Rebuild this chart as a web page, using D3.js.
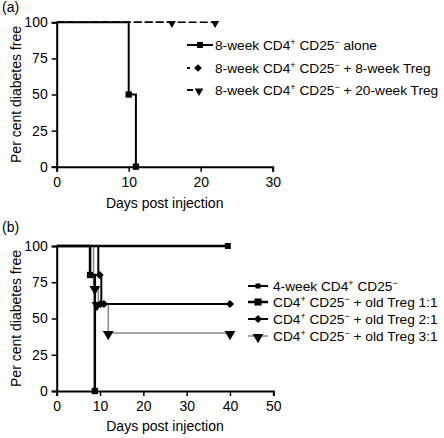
<!DOCTYPE html>
<html><head><meta charset="utf-8">
<script src="https://cdn.jsdelivr.net/npm/d3@7"></script>
<style>body{margin:0;background:#fff}svg{display:block}text{font-family:"Liberation Sans",Arial,sans-serif;fill:#000}</style>
</head><body><svg id="c" width="444" height="438"></svg>
<script>
// Panel (a) data
const aXTicks = [0, 10, 20, 30];
const aYTicks = [0, 25, 50, 75, 100];
const aAloneSteps = [[0,100],[10,100],[10,50],[11,50],[11,0]];
const aAloneMarks = [[10,50],[11,0]];
const aTreg8Steps = [[0,100],[16,100]];
const aTreg8Marks = [[16,100]];
const aTreg20Steps = [[0,100],[22,100]];
const aTreg20Marks = [[22,100]];
const aLegend = [["8-week CD4","+"," CD25","\u2212"," alone"],["8-week CD4","+"," CD25","\u2212"," + 8-week Treg"],["8-week CD4","+"," CD25","\u2212"," + 20-week Treg"]];

// Panel (b) data
const bXTicks = [0, 10, 20, 30, 40, 50];
const bYTicks = [0, 25, 50, 75, 100];
const b4wSteps = [[0,100],[39.5,100]];
const b4wMarks = [[39.5,100]];
const b11Steps = [[0,100],[7.7,100],[7.7,80],[8.8,80],[8.8,0]];
const b11Marks = [[7.7,80],[8.8,0]];
const b21Steps = [[0,100],[9.6,100],[9.6,80],[10.3,80],[10.3,60],[40,60]];
const b21Marks = [[9.9,80],[10.1,60],[10.9,60],[40,60]];
const b31Steps = [[0,100],[8.5,100],[8.5,71],[9.6,71],[9.6,60],[11.9,60],[11.9,40],[40,40]];
const b31Marks = [[8.8,71],[9.3,60],[11.9,40],[40,40]];
const bLegend = [["4-week CD4","+"," CD25","\u2212",""],["CD4","+"," CD25","\u2212"," + old Treg 1:1"],["CD4","+"," CD25","\u2212"," + old Treg 2:1"],["CD4","+"," CD25","\u2212"," + old Treg 3:1"]];

const svg = d3.select("#c");
const FS = 14;
const LFS = 13.7;

function sym(g, type, x, y, size, color, rot) {
  g.append("path").attr("d", d3.symbol().type(type).size(size)())
    .attr("transform", `translate(${x},${y}) rotate(${rot||0})`).attr("fill", color);
}
function diamond(g, x, y, size) { sym(g, d3.symbolSquare, x, y, size, "#000", 45); }

function axes(g, x, y, xTicks, yTicks, xlabY) {
  const xa = g.append("g").attr("transform", `translate(0,${y.range()[0]})`)
    .call(d3.axisBottom(x).tickValues(xTicks).tickSize(5).tickPadding(5).tickFormat(d3.format("d")));
  const ya = g.append("g").attr("transform", `translate(${x.range()[0]},0)`)
    .call(d3.axisLeft(y).tickValues(yTicks).tickSize(5).tickPadding(4).tickFormat(d3.format("d")));
  [xa, ya].forEach(a => {
    a.selectAll("path").attr("stroke", "#000").attr("stroke-width", 2);
    a.selectAll("line").attr("stroke", "#000").attr("stroke-width", 1.5);
    a.selectAll("text").attr("font-size", FS).attr("font-family", "Liberation Sans, Arial, sans-serif").attr("fill", "#000");
  });
  g.append("text").attr("x", (x.range()[0] + x.range()[1]) / 2).attr("y", xlabY)
    .attr("text-anchor", "middle").attr("font-size", FS).text("Days post injection");
  const cy = (y.range()[0] + y.range()[1]) / 2;
  g.append("text").attr("transform", `translate(21,${cy}) rotate(-90)`)
    .attr("text-anchor", "middle").attr("font-size", FS).text("Per cent diabetes free");
}

function legText(g, x, y, parts) {
  const t = g.append("text").attr("x", x).attr("y", y).attr("dy", "0.35em").attr("font-size", LFS);
  t.append("tspan").text(parts[0]);
  t.append("tspan").attr("font-size", 9).attr("dy", -5).text(parts[1]);
  t.append("tspan").attr("dy", 5).text(parts[2]);
  t.append("tspan").attr("font-size", 9).attr("dy", -5).text(parts[3]);
  if (parts[4]) t.append("tspan").attr("dy", 5).text(parts[4]);
}

const line = (x, y) => d3.line().x(d => x(d[0])).y(d => y(d[1]));

// ---------- Panel (a)
{
  const g = svg.append("g");
  const x = d3.scaleLinear().domain([0, 30]).range([56.7, 272.7]);
  const y = d3.scaleLinear().domain([0, 100]).range([166.7, 22.3]);
  g.append("text").attr("x", 2).attr("y", 12).attr("font-size", FS).text("(a)");
  axes(g, x, y, aXTicks, aYTicks, 208);
  const L = line(x, y);
  g.append("path").datum(aTreg20Steps).attr("d", L).attr("fill", "none").attr("stroke", "#000").attr("stroke-width", 1.5).attr("stroke-dasharray", "8,3");
  g.append("path").datum(aTreg8Steps).attr("d", L).attr("fill", "none").attr("stroke", "#000").attr("stroke-width", 1.5).attr("stroke-dasharray", "8,3");
  g.append("path").datum(aAloneSteps).attr("d", L).attr("fill", "none").attr("stroke", "#000").attr("stroke-width", 2);
  aAloneMarks.forEach(d => sym(g, d3.symbolSquare, x(d[0]), y(d[1]), 40, "#000"));
  aTreg8Marks.forEach(d => sym(g, d3.symbolTriangle, x(d[0]), y(d[1]) + 1, 28, "#000", 180));
  aTreg20Marks.forEach(d => sym(g, d3.symbolTriangle, x(d[0]), y(d[1]) + 1, 28, "#000", 180));
  // legend
  const lx0 = 187, lx1 = 213, tx = 215, rows = [45, 68, 90];
  g.append("line").attr("x1", lx0).attr("x2", lx1).attr("y1", rows[0]).attr("y2", rows[0]).attr("stroke", "#000").attr("stroke-width", 2);
  sym(g, d3.symbolSquare, 200, rows[0], 36, "#000");
  g.append("line").attr("x1", lx0).attr("x2", 190).attr("y1", rows[1]).attr("y2", rows[1]).attr("stroke", "#000").attr("stroke-width", 2);
  diamond(g, 198, rows[1], 30);
  g.append("line").attr("x1", lx0).attr("x2", 193).attr("y1", rows[2]).attr("y2", rows[2]).attr("stroke", "#000").attr("stroke-width", 2);
  sym(g, d3.symbolTriangle, 199, rows[2] + 1, 32, "#000", 180);
  aLegend.forEach((p, i) => legText(g, tx, rows[i], p));
}

// ---------- Panel (b)
{
  const g = svg.append("g");
  const x = d3.scaleLinear().domain([0, 50]).range([56.7, 273.3]);
  const y = d3.scaleLinear().domain([0, 100]).range([391, 246]);
  g.append("text").attr("x", 2).attr("y", 232).attr("font-size", FS).text("(b)");
  axes(g, x, y, bXTicks, bYTicks, 431);
  const L = line(x, y);
  g.append("path").datum(b31Steps).attr("d", L).attr("fill", "none").attr("stroke", "#888").attr("stroke-width", 1.5);
  g.append("path").datum(b4wSteps).attr("d", L).attr("fill", "none").attr("stroke", "#000").attr("stroke-width", 2.5);
  g.append("path").datum(b21Steps).attr("d", L).attr("fill", "none").attr("stroke", "#000").attr("stroke-width", 2);
  g.append("path").datum(b11Steps).attr("d", L).attr("fill", "none").attr("stroke", "#000").attr("stroke-width", 2.5);
  b4wMarks.forEach(d => sym(g, d3.symbolSquare, x(d[0]), y(d[1]), 36, "#000"));
  b11Marks.forEach(d => sym(g, d3.symbolSquare, x(d[0]), y(d[1]), 40, "#000"));
  b21Marks.forEach(d => diamond(g, x(d[0]), y(d[1]), 34));
  b31Marks.forEach(d => sym(g, d3.symbolTriangle, x(d[0]), y(d[1]) + 1, 50, "#000", 180));
  const lx0 = 248, lx1 = 268, tx = 273, rows = [286, 302, 319, 336];
  g.append("line").attr("x1", lx0).attr("x2", lx1).attr("y1", rows[0]).attr("y2", rows[0]).attr("stroke", "#000").attr("stroke-width", 2);
  sym(g, d3.symbolSquare, 258, rows[0], 25, "#000");
  g.append("line").attr("x1", lx0).attr("x2", lx1).attr("y1", rows[1]).attr("y2", rows[1]).attr("stroke", "#000").attr("stroke-width", 2.5);
  sym(g, d3.symbolSquare, 258, rows[1], 50, "#000");
  g.append("line").attr("x1", lx0).attr("x2", lx1).attr("y1", rows[2]).attr("y2", rows[2]).attr("stroke", "#000").attr("stroke-width", 2);
  diamond(g, 258, rows[2], 34);
  g.append("line").attr("x1", lx0).attr("x2", lx1).attr("y1", rows[3]).attr("y2", rows[3]).attr("stroke", "#888").attr("stroke-width", 1.5);
  sym(g, d3.symbolTriangle, 258, rows[3] + 1, 50, "#000", 180);
  bLegend.forEach((p, i) => legText(g, tx, rows[i], p));
}
</script></body></html>
